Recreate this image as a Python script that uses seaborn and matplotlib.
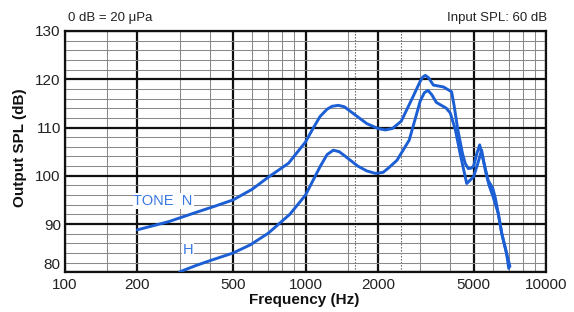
import numpy as np
import pandas as pd
import matplotlib
matplotlib.use("Agg")
import matplotlib.pyplot as plt
import seaborn as sns

# ---- data ----
n_freq = [200, 270, 350, 420, 500, 600, 700, 850, 1000, 1080, 1150, 1230, 1290, 1370, 1450,
          1580, 1800, 2000, 2150, 2300, 2500, 2800, 3000, 3080, 3150, 3250, 3400, 3750, 4050,
          4150, 4300, 4500, 4620, 4750, 4900, 5000, 5150, 5300, 5500, 5750, 6000, 6150, 6330,
          6550, 6850, 7080]
n_db = [88.8, 90.5, 92.4, 93.7, 95.0, 97.2, 99.7, 102.6, 107.0, 110.0, 112.3, 113.8, 114.4, 114.6, 114.3,
        112.9, 110.8, 109.8, 109.5, 109.8, 111.3, 116.4, 119.6, 120.5, 120.8, 120.3, 118.8, 118.4, 117.4,
        114.5, 109.5, 104.5, 102.5, 101.5, 101.6, 102.0, 104.5, 106.4, 103.0, 99.0, 97.5, 95.5, 92.2,
        88.0, 84.0, 81.2]

h_freq = [300, 350, 400, 500, 590, 700, 860, 1000, 1150, 1230, 1305, 1380, 1450, 1650, 1800,
          1950, 2100, 2200, 2400, 2700, 3000, 3120, 3230, 3350, 3500, 3850, 4000, 4200, 4400,
          4680, 5000, 5200, 5400, 5600, 5800, 6030, 6330, 6550, 6850, 7000]
h_db = [80.1, 81.4, 82.4, 84.0, 85.7, 88.1, 92.0, 96.0, 101.9, 104.4, 105.3, 105.0, 104.2, 102.0, 101.0,
        100.5, 100.7, 101.5, 103.2, 107.4, 115.5, 117.2, 117.7, 116.8, 115.2, 114.0, 113.0, 109.5, 104.5,
        98.4, 99.8, 102.5, 105.3, 101.0, 98.0, 95.6, 92.2, 88.0, 84.0, 80.8]

x_ticks = [100, 200, 500, 1000, 2000, 5000, 10000]
x_minor = [150, 300, 400, 600, 700, 800, 900, 1500, 3000, 4000, 6000, 7000, 8000, 9000]
x_dotted = [1600, 2500]
y_ticks = [80, 90, 100, 110, 120, 130]
y_minor = [82, 84, 86, 88, 92, 94, 96, 98, 102, 104, 106, 108, 112, 114, 116, 118, 122, 124, 126, 128]

df = pd.concat([
    pd.DataFrame({"freq": n_freq, "spl": n_db, "tone": "N"}),
    pd.DataFrame({"freq": h_freq, "spl": h_db, "tone": "H"}),
], ignore_index=True)

sns.set_style("white")
plt.rcParams["font.family"] = ["Liberation Sans", "DejaVu Sans"]

blue = "#1c5fd4"
fig = plt.figure(figsize=(5.74, 3.12), dpi=100)
ax = fig.add_axes([65/574, 1-272.3/312, 481/574, 241.3/312])

sns.lineplot(data=df, x="freq", y="spl", hue="tone", palette=[blue, blue],
             estimator=None, legend=False, lw=2.1, ax=ax, zorder=3)
for ln in ax.lines:
    ln.set_solid_joinstyle("round")
    ln.set_solid_capstyle("round")

ax.set_xscale("log")
ax.set_xlim(100, 10000)
ax.set_ylim(80, 130)
ax.set_xticks(x_ticks)
ax.set_xticklabels([str(t) for t in x_ticks])
ax.set_xticks(x_minor, minor=True)
ax.set_xticklabels([], minor=True)
ax.set_yticks(y_ticks)
ax.set_yticklabels([str(t) for t in y_ticks])
ax.set_yticks(y_minor, minor=True)
ax.grid(which="major", color="#111111", lw=1.6, zorder=1)
ax.grid(which="minor", color="#8a8a8a", lw=0.75, zorder=0)
for xv in x_dotted:
    ax.axvline(xv, color="#555555", lw=0.8, ls=(0, (1.2, 1.5)), zorder=0)
ax.set_axisbelow(True)
ax.set_xlabel("")
ax.set_ylabel("")

ax.tick_params(which="both", length=0, labelsize=11, colors="#222222")
ax.tick_params(axis="x", pad=4)
ax.tick_params(axis="y", pad=3)
# the lowest y label sits just above the bottom edge, as in the reference
ax.get_yticklabels()[0].set_verticalalignment("bottom")
for s in ax.spines.values():
    s.set_color("#111111")
    s.set_linewidth(1.6)
    s.set_visible(True)

ax.text(256, 94.8, "TONE  N", color="#3a78e0", fontsize=10.5, ha="center", va="center",
        zorder=4, bbox=dict(facecolor="white", edgecolor="none", pad=0.5))
ax.text(324, 84.6, "H", color="#3a78e0", fontsize=10.5, ha="center", va="center",
        zorder=4, bbox=dict(facecolor="white", edgecolor="none", pad=0.5))

ax.text(0.006, 1.055, "0 dB = 20 μPa", transform=ax.transAxes, ha="left", va="center",
        fontsize=9.5, color="#222222")
ax.text(1.002, 1.055, "Input SPL: 60 dB", transform=ax.transAxes, ha="right", va="center",
        fontsize=9.5, color="#222222")

fig.text(20/574, 1-148/312, "Output SPL (dB)", rotation=90, ha="center", va="center",
         fontsize=11, fontweight="bold", color="#111111")
fig.text(304/574, 1-300/312, "Frequency (Hz)", ha="center", va="center",
         fontsize=11, fontweight="bold", color="#111111")

fig.savefig("out.png", dpi=100)
